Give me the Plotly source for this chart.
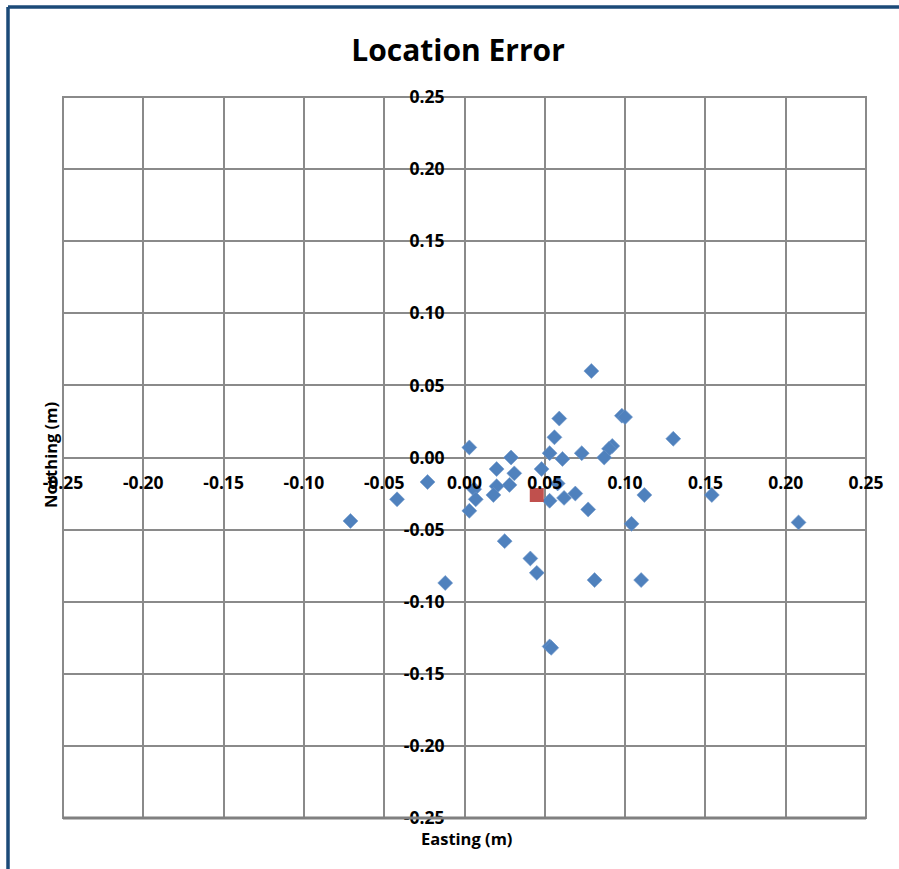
import plotly.graph_objects as go

# Data
easting = [0.079, 0.098, 0.100, 0.059, 0.130, 0.056, 0.003, 0.092, 0.090, 0.053,
           0.061, 0.073, 0.087, 0.029, 0.048, 0.020, 0.031, 0.028, 0.020, 0.018,
           0.058, 0.006, 0.007, 0.003, 0.053, 0.062, 0.069, 0.112, 0.154, 0.077,
           0.104, 0.208, 0.025, 0.041, 0.045, 0.081, 0.110, -0.012, -0.023, -0.042,
           -0.071, 0.053, 0.054]
northing = [0.060, 0.029, 0.028, 0.027, 0.013, 0.014, 0.007, 0.008, 0.006, 0.003,
            -0.001, 0.003, 0.000, 0.000, -0.008, -0.008, -0.011, -0.019, -0.020, -0.026,
            -0.018, -0.022, -0.029, -0.037, -0.030, -0.028, -0.025, -0.026, -0.026, -0.036,
            -0.046, -0.045, -0.058, -0.070, -0.080, -0.085, -0.085, -0.087, -0.017, -0.029,
            -0.044, -0.131, -0.132]
mean_easting = [0.045]
mean_northing = [-0.026]

tick_vals = [-0.25, -0.20, -0.15, -0.10, -0.05, 0.00, 0.05, 0.10, 0.15, 0.20, 0.25]
tick_text = ["-0.25", "-0.20", "-0.15", "-0.10", "-0.05", "0.00",
             "0.05", "0.10", "0.15", "0.20", "0.25"]

W, H = 899, 869
L, R, T, B = 63, 33, 97, 51
PW, PH = W - L - R, H - T - B

def px_x(p):
    return (p - L) / PW

def px_y(p):
    return (H - B - p) / PH

FONT = "Open Sans"

fig = go.Figure()
fig.add_trace(go.Scatter(
    x=easting, y=northing, mode="markers",
    marker=dict(symbol="diamond", size=11.5, color="#4F81BD",
                line=dict(width=0.6, color="#6F97C9")),
    showlegend=False, cliponaxis=False, hoverinfo="skip"))
fig.add_trace(go.Scatter(
    x=mean_easting, y=mean_northing, mode="markers",
    marker=dict(symbol="square", size=14, color="#C0504D", line=dict(width=0)),
    showlegend=False, cliponaxis=False, hoverinfo="skip"))

tickfont = dict(family=FONT, size=17.5, color="black", weight="bold")
grid = "#8A8A8A"

fig.update_layout(
    width=W, height=H,
    margin=dict(l=L, r=R, t=T, b=B),
    paper_bgcolor="white", plot_bgcolor="white",
    title=dict(text="Location Error", x=px_x(458), xref="paper", xanchor="center",
               y=1 - 50 / H, yref="container", yanchor="middle",
               font=dict(family=FONT, size=30, color="black", weight="bold")),
    xaxis=dict(range=[-0.25, 0.25], tickvals=tick_vals, ticktext=tick_text,
               showgrid=True, gridcolor=grid, gridwidth=2, zeroline=False,
               showline=False, ticks="", anchor="free", position=0.5,
               tickfont=tickfont, ticklabelstandoff=13),
    yaxis=dict(range=[-0.25, 0.25], tickvals=tick_vals, ticktext=tick_text,
               showgrid=True, gridcolor=grid, gridwidth=2, zeroline=False,
               showline=False, ticks="", anchor="free", position=0.5,
               tickfont=tickfont, ticklabelstandoff=20),
    shapes=[
        dict(type="rect", xref="paper", yref="paper", x0=0, x1=1, y0=0, y1=1,
             line=dict(color=grid, width=2), layer="below"),
        dict(type="line", xref="paper", yref="paper", x0=0, x1=1, y0=0, y1=0,
             line=dict(color="#808080", width=3)),
        dict(type="line", xref="paper", yref="paper", x0=px_x(8), x1=px_x(8),
             y0=px_y(900), y1=px_y(7), line=dict(color="#1B4A78", width=3.5)),
        dict(type="line", xref="paper", yref="paper", x0=px_x(8), x1=px_x(930),
             y0=px_y(7), y1=px_y(7), line=dict(color="#1B4A78", width=3.5)),
    ],
    annotations=[
        dict(text="Easting (m)", xref="paper", yref="paper", x=px_x(466), y=px_y(838),
             xanchor="center", yanchor="middle", showarrow=False,
             font=dict(family=FONT, size=16.5, color="black", weight="bold")),
        dict(text="Northing (m)", xref="paper", yref="paper", x=px_x(50), y=px_y(455),
             xanchor="center", yanchor="middle", showarrow=False, textangle=-90,
             font=dict(family=FONT, size=16.5, color="black", weight="bold")),
    ],
)

fig.write_html("out.html",
               config={"displayModeBar": False},
               post_script="document.body.style.margin='0px';document.body.style.overflow='hidden';")
